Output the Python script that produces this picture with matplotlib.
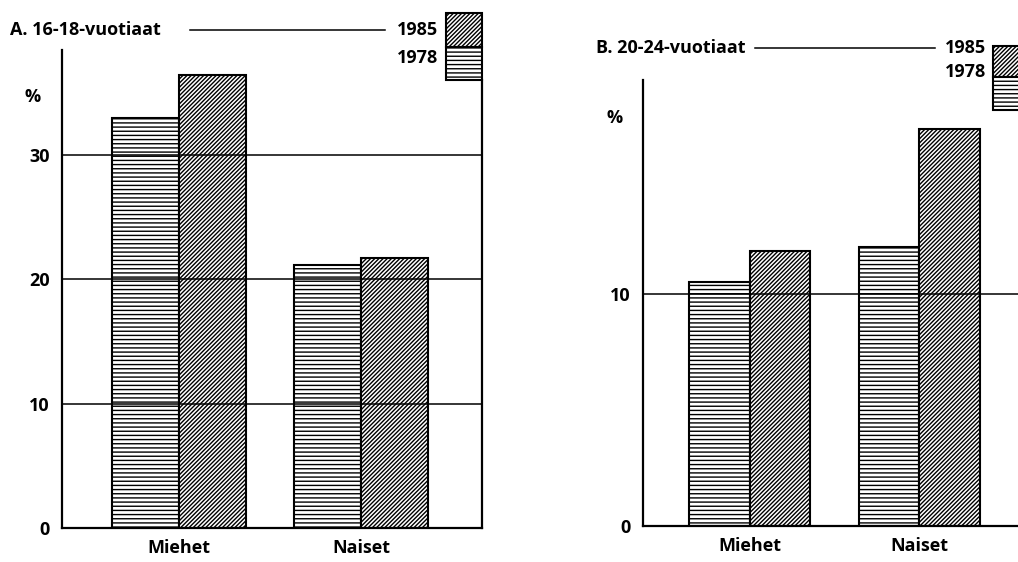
import matplotlib
matplotlib.use("Agg")
import matplotlib.pyplot as plt
from matplotlib.patches import Rectangle
from matplotlib.lines import Line2D
import numpy as np

categories = ["Miehet", "Naiset"]
years = ["1978", "1985"]
a_1978 = [32.9, 21.1]
a_1985 = [36.4, 21.7]
b_1978 = [10.5, 12.0]
b_1985 = [11.85, 17.1]
a_ticks = [0, 10, 20, 30]
b_ticks = [0, 10]
titles = ["A. 16-18-vuotiaat", "B. 20-24-vuotiaat"]

W, H = 1018, 562
plt.rcParams['font.family'] = ['Open Sans', 'DejaVu Sans']
plt.rcParams['hatch.linewidth'] = 1.0
FS = 13
FW = 'bold'
HATCH_85 = '////////'
HATCH_78 = '----'

fig = plt.figure(figsize=(W / 100, H / 100), dpi=100)


def px(x0, y0, x1, y1):
    return [x0 / W, 1 - y1 / H, (x1 - x0) / W, (y1 - y0) / H]


def ftext(x, y, s, **kw):
    fig.text(x / W, 1 - y / H, s, fontsize=FS, fontweight=FW, **kw)


def panel(rect, v78, v85, ticks, ylim, xlim, w, rbound, grid):
    ax = fig.add_axes(rect)
    x = np.arange(len(categories))
    ax.bar(x - w / 2, v78, w, color='white', edgecolor='black', hatch=HATCH_78, linewidth=1.5, zorder=2)
    ax.bar(x + w / 2, v85, w, color='white', edgecolor='black', hatch=HATCH_85, linewidth=1.5, zorder=2)
    for g in grid:
        ax.axhline(g, color='black', lw=1.1, zorder=3)
    ax.set_xlim(*xlim)
    ax.set_ylim(*ylim)
    ax.set_yticks(ticks)
    ax.set_yticklabels([str(t) for t in ticks], fontsize=FS, fontweight=FW)
    ax.set_xticks(x)
    ax.set_xticklabels(categories, fontsize=FS, fontweight=FW)
    ax.tick_params(length=0)
    ax.tick_params(axis='y', pad=9)
    ax.tick_params(axis='x', pad=8)
    ax.spines['top'].set_visible(False)
    ax.spines['right'].set_bounds(0, rbound)
    for s in ax.spines.values():
        s.set_linewidth(1.6)
    return ax


axA = panel(px(62, 50, 482, 528), a_1978, a_1985, a_ticks, (0, 38.4), (-0.639, 1.661), 0.367, 36.0, [10, 20, 30])
axB = panel(px(643, 80, 1028, 526), b_1978, b_1985, b_ticks, (0, 19.2), (-0.631, 1.643), 0.357, 17.9, [10])


def legend_box(x0, y0, x1, ym, y1):
    fig.add_artist(Rectangle((x0 / W, 1 - ym / H), (x1 - x0) / W, (ym - y0) / H,
                             transform=fig.transFigure, facecolor='white', edgecolor='black',
                             hatch=HATCH_85, linewidth=1.5))
    fig.add_artist(Rectangle((x0 / W, 1 - y1 / H), (x1 - x0) / W, (y1 - ym) / H,
                             transform=fig.transFigure, facecolor='white', edgecolor='black',
                             hatch=HATCH_78, linewidth=1.5))


# Panel A header
ftext(10, 30, titles[0], ha='left', va='center')
fig.add_artist(Line2D([190 / W, 385 / W], [1 - 30 / H, 1 - 30 / H], color='black', lw=1.1))
ftext(438, 30, years[1], ha='right', va='center')
ftext(438, 58, years[0], ha='right', va='center')
legend_box(446, 13, 482, 47, 80)
ftext(33, 97, '%', ha='center', va='center')

# Panel B header
ftext(596, 48, titles[1], ha='left', va='center')
fig.add_artist(Line2D([755 / W, 935 / W], [1 - 48 / H, 1 - 48 / H], color='black', lw=1.1))
ftext(986, 48, years[1], ha='right', va='center')
ftext(986, 72, years[0], ha='right', va='center')
legend_box(993, 46, 1030, 77, 110)
ftext(615, 118, '%', ha='center', va='center')

fig.savefig('out.png', dpi=100)
